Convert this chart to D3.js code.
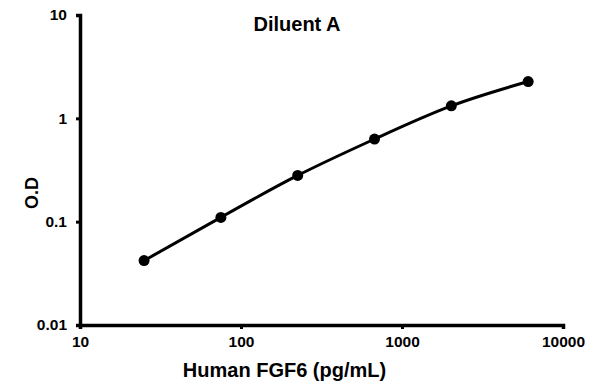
<!DOCTYPE html>
<html>
<head>
<meta charset="utf-8">
<script src="https://d3js.org/d3.v7.min.js"></script>
<style>
  body { margin: 0; background: #fff; }
  text { font-family: Arial, "Liberation Sans", sans-serif; font-weight: bold; fill: #000; }
  .tick text { font-size: 15.5px; }
</style>
</head>
<body>
<svg id="chart" width="595" height="384"></svg>
<script>
// data
const concentrations = [25, 75, 225, 675, 2025, 6075];
const odValues = [0.042, 0.11, 0.28, 0.63, 1.32, 2.27];
const xTicks = [10, 100, 1000, 10000];
const yTicks = [0.01, 0.1, 1, 10];
const yTickLabels = ["0.01", "0.1", "1", "10"];

const svg = d3.select("#chart");

const x = d3.scaleLog().domain([10, 10000]).range([80, 563]);
const y = d3.scaleLog().domain([0.01, 10]).range([325, 15]);

// axes
const xAxis = svg.append("g")
    .attr("transform", "translate(0,325)")
    .call(d3.axisBottom(x).tickValues(xTicks).tickFormat(d3.format("d")).tickSize(4).tickPadding(7));
const yAxis = svg.append("g")
    .attr("transform", "translate(80,0)")
    .call(d3.axisLeft(y).tickValues(yTicks).tickFormat((d, i) => yTickLabels[i]).tickSize(4).tickPadding(9));

[xAxis, yAxis].forEach(a => {
  a.select(".domain").attr("stroke", "#000").attr("stroke-width", 3.5);
  a.selectAll(".tick line").attr("stroke", "#000").attr("stroke-width", 3);
  a.selectAll(".tick text").attr("fill", "#000");
});

const data = concentrations.map((c, i) => ({c: c, od: odValues[i]}));

const line = d3.line()
    .x(d => x(d.c))
    .y(d => y(d.od))
    .curve(d3.curveNatural);

svg.append("path")
    .datum(data)
    .attr("d", line)
    .attr("fill", "none")
    .attr("stroke", "#000")
    .attr("stroke-width", 3);

svg.selectAll("circle.pt")
    .data(data)
    .enter()
    .append("circle")
    .attr("class", "pt")
    .attr("cx", d => x(d.c))
    .attr("cy", d => y(d.od))
    .attr("r", 5.5)
    .attr("fill", "#000");

// titles
svg.append("text")
    .attr("x", 297).attr("y", 31)
    .attr("text-anchor", "middle")
    .attr("font-size", 20)
    .text("Diluent A");

svg.append("text")
    .attr("x", 284.5).attr("y", 377)
    .attr("text-anchor", "middle")
    .attr("font-size", 20)
    .text("Human FGF6 (pg/mL)");

svg.append("text")
    .attr("transform", "translate(38,193) rotate(-90)")
    .attr("text-anchor", "middle")
    .attr("font-size", 18)
    .text("O.D");
</script>
</body>
</html>
